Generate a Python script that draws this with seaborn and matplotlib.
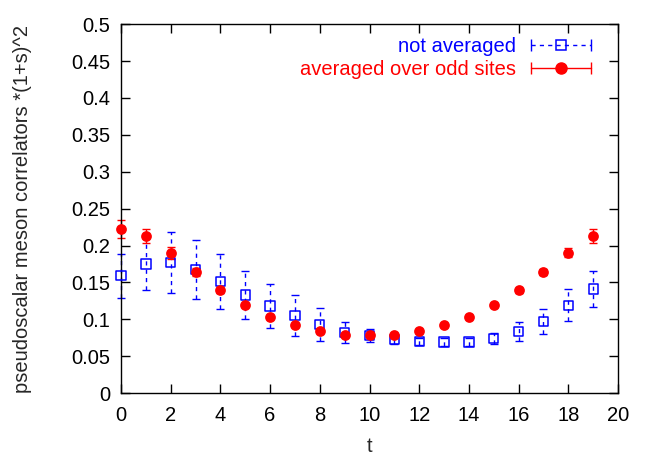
import matplotlib
matplotlib.use("Agg")
import matplotlib.pyplot as plt
from matplotlib.lines import Line2D
from matplotlib.legend_handler import HandlerLine2D, HandlerTuple
import seaborn as sns
import pandas as pd

t = list(range(20))

# not averaged (blue squares)
raw_val = [0.159, 0.175, 0.177, 0.167, 0.151, 0.133, 0.118, 0.105, 0.093, 0.082,
           0.078, 0.073, 0.070, 0.069, 0.069, 0.074, 0.083, 0.097, 0.119, 0.141]
raw_err = [0.030, 0.035, 0.041, 0.040, 0.037, 0.032, 0.030, 0.028, 0.022, 0.014,
           0.009, 0.006, 0.005, 0.005, 0.005, 0.008, 0.013, 0.017, 0.022, 0.025]

# averaged over odd sites (red circles)
avg_val = [0.222, 0.213, 0.190, 0.164, 0.139, 0.119, 0.103, 0.092, 0.084, 0.079,
           0.078, 0.079, 0.084, 0.092, 0.103, 0.119, 0.139, 0.164, 0.190, 0.213]
avg_err = [0.012, 0.010, 0.008, 0.005, 0.004, 0.003, 0.003, 0.003, 0.002, 0.002,
           0.002, 0.002, 0.002, 0.002, 0.002, 0.003, 0.003, 0.004, 0.006, 0.009]

df = pd.DataFrame({"t": t, "raw": raw_val, "raw_err": raw_err,
                   "avg": avg_val, "avg_err": avg_err})

sns.set_theme(style="ticks")
plt.rcParams['font.family'] = ['Liberation Sans', 'DejaVu Sans']
fs = 14.5

fig, ax = plt.subplots(figsize=(6.54, 4.57), dpi=100)
fig.subplots_adjust(left=0.185, right=0.945, top=0.947, bottom=0.14)

eb = ax.errorbar(df["t"], df["raw"], yerr=df["raw_err"], fmt="none",
                 ecolor="blue", elinewidth=1, capsize=3, capthick=1, clip_on=False)
eb[2][0].set_linestyle((0, (3, 3)))
sns.scatterplot(x="t", y="raw", data=df, ax=ax, marker="s", s=45,
                facecolor="none", edgecolor="blue", linewidth=1.1, zorder=3, clip_on=False)

ax.errorbar(df["t"], df["avg"], yerr=df["avg_err"], fmt="none",
            ecolor="red", elinewidth=1, capsize=3, capthick=1, clip_on=False)
sns.scatterplot(x="t", y="avg", data=df, ax=ax, marker="o", s=60,
                color="red", linewidth=0, zorder=4, clip_on=False)

ax.set_xlim(0, 20)
ax.set_ylim(0, 0.5)
ax.set_xticks(range(0, 21, 2))
ax.set_yticks([0, 0.05, 0.1, 0.15, 0.2, 0.25, 0.3, 0.35, 0.4, 0.45, 0.5])
ax.set_yticklabels(["0", "0.05", "0.1", "0.15", "0.2", "0.25", "0.3", "0.35", "0.4", "0.45", "0.5"])
ax.tick_params(direction="in", length=6.5, width=1, top=True, right=True,
               labelsize=fs, colors="black")
ax.tick_params(axis="x", pad=9)
ax.tick_params(axis="y", pad=8)
for s in ax.spines.values():
    s.set_linewidth(1)
    s.set_color("black")
ax.set_xlabel("t", fontsize=fs, labelpad=9)
ax.set_ylabel("pseudoscalar meson correlators *(1+s)^2", fontsize=fs, labelpad=28)

# gnuplot-like legend keys
blue_line = Line2D([], [], color="blue", ls=(0, (3, 3)), lw=1, marker="|", ms=9, mew=1)
blue_mark = Line2D([], [], color="blue", ls="none", marker="s", ms=7, mfc="none", mew=1.1)
red_line = Line2D([], [], color="red", ls="-", lw=1, marker="|", ms=9, mew=1)
red_mark = Line2D([], [], color="red", ls="none", marker="o", ms=8)
hmap = {blue_line: HandlerLine2D(numpoints=2, marker_pad=0),
        red_line: HandlerLine2D(numpoints=2, marker_pad=0),
        blue_mark: HandlerLine2D(numpoints=1), red_mark: HandlerLine2D(numpoints=1),
        tuple: HandlerTuple(ndivide=1, pad=0)}
leg = ax.legend([(blue_line, blue_mark), (red_line, red_mark)],
                ["not averaged", "averaged over odd sites"],
                handler_map=hmap, loc="upper right", bbox_to_anchor=(0.962, 0.988),
                frameon=False, markerfirst=False, fontsize=fs, handlelength=3.0,
                handletextpad=0.75, labelspacing=0.2, borderaxespad=0)
leg.get_texts()[0].set_color("blue")
leg.get_texts()[1].set_color("red")

fig.savefig("out.png", dpi=100)
